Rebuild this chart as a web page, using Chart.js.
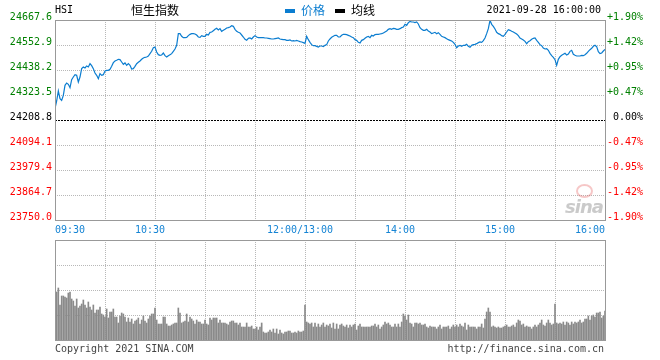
<!DOCTYPE html>
<html>
<head>
<meta charset="utf-8">
<script src="https://cdn.jsdelivr.net/npm/chart.js@4.4.1/dist/chart.umd.min.js"></script>
<style>
  body { margin: 0; background: #fff; width: 660px; height: 360px; position: relative; overflow: hidden; }
  canvas { position: absolute; left: 0; }
  #main { top: 0; }
  #vol { top: 235px; }
  .t { position: absolute; white-space: nowrap; font: 10px/12px "DejaVu Sans Mono", monospace; color: #000; }
  .cn { position: absolute; white-space: nowrap; font: 12px/12px "Noto Sans CJK SC", sans-serif; }
  .key { position: absolute; width: 10px; height: 4px; }
</style>
</head>
<body>
<canvas id="main" width="660" height="240"></canvas>
<canvas id="vol" width="660" height="125"></canvas>

<div class="t" style="left:55px;top:4px">HSI</div>
<div class="cn" style="left:131px;top:4px;color:#000">恒生指数</div>
<div class="key" style="left:285px;top:9px;background:#0b7dd0"></div>
<div class="cn" style="left:301px;top:4px;color:#0b7dd0">价格</div>
<div class="key" style="left:335px;top:9px;background:#000"></div>
<div class="cn" style="left:351px;top:4px;color:#000">均线</div>
<div class="t" style="right:59px;top:4px">2021-09-28 16:00:00</div>
<div class="t" style="left:55px;top:343px;color:#444">Copyright 2021 SINA.COM</div>
<div class="t" style="right:56px;top:343px;color:#444">http://finance.sina.com.cn</div>
<div style="position:absolute;left:576px;top:184px;width:13px;height:10px;border:2px solid rgba(225,70,70,0.3);border-radius:50%"></div>
<div style="position:absolute;left:565px;top:196px;font:italic bold 18px 'DejaVu Sans',sans-serif;color:rgba(150,150,150,0.5);letter-spacing:-1px">sina</div>

<script>
// 昨收 / previous close
const baseClose = 24208.8;

const priceTicks = [23750.0, 23864.7, 23979.4, 24094.1, 24208.8, 24323.5, 24438.2, 24552.9, 24667.6];
const timeTicks = [0, 60, 150, 210, 270, 330];
const timeLabels = ['09:30', '10:30', '12:00/13:00', '14:00', '15:00', '16:00'];
const gridMins = [30, 60, 90, 120, 150, 180, 210, 240, 270, 300];
const volTicks = [25, 50, 75];

// one value per trading minute, 09:30 .. 16:00 (lunch skipped)
const prices = [
  24260.9, 24296.0, 24341.9, 24306.7, 24299.1, 24322.0, 24367.9, 24378.6, 24372.5, 24357.2,
  24393.9, 24406.1, 24416.8, 24413.8, 24383.2, 24406.1, 24444.4, 24452.0, 24447.4, 24456.6,
  24452.0, 24467.3, 24458.1, 24444.4, 24424.5, 24413.8, 24398.5, 24421.4, 24413.8, 24416.8,
  24433.6, 24436.7, 24436.7, 24441.3, 24455.1, 24471.9, 24479.5, 24482.6, 24487.2, 24485.7,
  24475.0, 24464.3, 24470.4, 24459.7, 24467.3, 24459.7, 24442.8, 24444.4, 24455.1, 24467.3,
  24473.4, 24479.5, 24487.2, 24493.3, 24496.4, 24497.9, 24502.5, 24513.2, 24523.9, 24540.7,
  24543.8, 24520.8, 24508.6, 24505.5, 24507.1, 24516.2, 24504.0, 24497.9, 24504.0, 24508.6,
  24513.2, 24523.9, 24534.6, 24551.4, 24604.9, 24604.9, 24592.7, 24586.6, 24586.6, 24588.1,
  24595.8, 24601.9, 24604.9, 24604.9, 24603.4, 24598.8, 24589.6, 24588.1, 24595.8, 24592.7,
  24592.7, 24601.9, 24598.8, 24611.1, 24612.6, 24618.7, 24624.8, 24629.4, 24621.8, 24627.9,
  24615.6, 24620.2, 24624.8, 24630.9, 24632.5, 24635.5, 24641.6, 24638.6, 24624.8, 24615.6,
  24611.1, 24608.0, 24598.8, 24589.6, 24578.9, 24574.3, 24583.5, 24585.0, 24580.5, 24589.6,
  24595.8, 24589.6, 24586.6, 24586.6, 24586.6, 24586.6, 24585.0, 24585.0, 24583.5, 24582.0,
  24580.5, 24580.5, 24582.0, 24583.5, 24585.0, 24580.5, 24578.9, 24577.4, 24577.4, 24574.3,
  24574.3, 24575.9, 24571.3, 24572.8, 24571.3, 24574.3, 24571.3, 24568.2, 24566.7, 24563.7,
  24560.6, 24592.7, 24577.4, 24565.2, 24554.5, 24549.9, 24549.9, 24546.8, 24543.8, 24548.4,
  24548.4, 24545.3, 24551.4, 24554.5, 24571.3, 24580.5, 24588.1, 24592.7, 24597.3, 24597.3,
  24589.6, 24589.6, 24597.3, 24601.9, 24601.9, 24600.4, 24597.3, 24594.2, 24589.6, 24586.6,
  24577.4, 24574.3, 24565.2, 24562.1, 24574.3, 24577.4, 24583.5, 24589.6, 24592.7, 24586.6,
  24597.3, 24594.2, 24600.4, 24601.9, 24601.9, 24603.4, 24604.9, 24608.0, 24612.6, 24617.2,
  24624.8, 24627.9, 24624.8, 24629.4, 24627.9, 24624.8, 24624.8, 24627.9, 24632.5, 24635.5,
  24647.8, 24643.2, 24655.4, 24661.5, 24658.5, 24658.5, 24655.4, 24658.5, 24649.3, 24632.5,
  24624.8, 24620.2, 24620.2, 24624.8, 24617.2, 24612.6, 24604.9, 24608.0, 24611.1, 24604.9,
  24609.5, 24601.9, 24592.7, 24589.6, 24586.6, 24582.0, 24577.4, 24574.3, 24571.3, 24565.2,
  24556.0, 24540.7, 24548.4, 24551.4, 24546.8, 24551.4, 24551.4, 24556.0, 24546.8, 24542.2,
  24551.4, 24554.5, 24556.0, 24559.1, 24563.7, 24566.7, 24565.2, 24572.8, 24585.0, 24604.9,
  24627.9, 24666.1, 24647.8, 24638.6, 24626.4, 24611.1, 24604.9, 24601.9, 24595.8, 24592.7,
  24601.9, 24612.6, 24623.3, 24620.2, 24615.6, 24612.6, 24608.0, 24603.4, 24595.8, 24585.0,
  24580.5, 24575.9, 24569.8, 24559.1, 24568.2, 24572.8, 24578.9, 24583.5, 24585.0, 24574.3,
  24565.2, 24554.5, 24549.9, 24539.2, 24534.6, 24536.1, 24528.5, 24514.7, 24504.0, 24496.4,
  24485.7, 24459.7, 24487.2, 24499.4, 24505.5, 24510.1, 24514.7, 24507.1, 24511.7, 24523.9,
  24528.5, 24510.1, 24505.5, 24502.5, 24502.5, 24502.5, 24505.5, 24504.0, 24508.6, 24514.7,
  24523.9, 24531.5, 24537.7, 24546.8, 24551.4, 24545.3, 24522.4, 24513.2, 24516.2, 24525.4,
  24533.1
];

// volume, relative units (pane top = 100)
const volumes = [
  40,
  48, 52, 35, 44, 44, 43, 42, 47, 48, 41,
  39, 34, 41, 32, 34, 36, 40, 35, 32, 38,
  33, 30, 35, 27, 30, 30, 33, 26, 25, 23,
  31, 22, 28, 28, 31, 23, 23, 17, 24, 27,
  26, 23, 18, 22, 18, 21, 16, 19, 20, 22,
  16, 20, 24, 19, 17, 21, 24, 26, 26, 32,
  20, 16, 16, 16, 23, 23, 16, 14, 14, 15,
  16, 17, 17, 32, 27, 17, 18, 19, 26, 18,
  23, 21, 19, 16, 20, 18, 18, 16, 16, 20,
  16, 15, 22, 20, 22, 22, 22, 17, 20, 17,
  17, 17, 16, 15, 18, 19, 19, 17, 17, 15,
  17, 13, 13, 13, 17, 13, 13, 14, 11, 11,
  13, 10, 13, 17, 8, 7, 7, 8, 10, 8,
  11, 7, 11, 6, 10, 7, 6, 8, 8, 9,
  9, 7, 7, 8, 7, 9, 8, 8, 9, 35,
  18, 17, 16, 17, 13, 17, 13, 16, 13, 15,
  17, 13, 15, 14, 16, 12, 17, 11, 16, 11,
  15, 16, 14, 13, 15, 12, 15, 13, 15, 16,
  10, 14, 16, 13, 13, 13, 13, 13, 13, 14,
  14, 16, 13, 15, 11, 13, 15, 18, 16, 17,
  15, 13, 13, 16, 13, 16, 13, 18, 26, 24,
  20, 25, 17, 16, 13, 17, 17, 16, 17, 15,
  15, 16, 13, 12, 14, 13, 13, 13, 11, 13,
  15, 11, 13, 13, 13, 14, 11, 13, 15, 13,
  15, 13, 16, 14, 13, 17, 10, 15, 13, 13,
  13, 13, 11, 13, 13, 16, 12, 21, 28, 32,
  28, 13, 14, 13, 12, 13, 12, 12, 13, 14,
  15, 13, 13, 14, 15, 13, 17, 20, 19, 15,
  16, 13, 14, 13, 13, 11, 13, 15, 13, 15,
  17, 20, 15, 14, 17, 20, 17, 15, 16, 36,
  17, 16, 17, 16, 18, 15, 18, 17, 15, 18,
  16, 18, 17, 18, 20, 17, 18, 21, 21, 24,
  20, 24, 25, 23, 27, 27, 28, 22, 24, 29
];

const mono = '"DejaVu Sans Mono", monospace';
const blue = '#0b7dd0';

function upDown(v) {
  if (Math.abs(v - baseClose) < 0.01) return '#000';
  return v > baseClose ? '#008000' : '#ff0000';
}

// dotted grid + solid frame, sina style
function gridPlugin(hVals, midVal) {
  return {
    id: 'sinaGrid',
    beforeDatasetsDraw(chart) {
      let { ctx, chartArea: a, scales } = chart;
      let x = scales.x, y = scales.y;
      ctx.save();
      ctx.lineWidth = 1;
      ctx.strokeStyle = '#b8b8b8';
      ctx.setLineDash([1, 1]);
      ctx.beginPath();
      gridMins.forEach(m => {
        let px = Math.round(x.getPixelForValue(m)) + 0.5;
        ctx.moveTo(px, a.top);
        ctx.lineTo(px, a.bottom);
      });
      hVals.forEach(v => {
        if (midVal !== null && Math.abs(v - midVal) < 0.01) return;
        let py = Math.round(y.getPixelForValue(v)) + 0.5;
        ctx.moveTo(a.left, py);
        ctx.lineTo(a.right, py);
      });
      ctx.stroke();
      if (midVal !== null) {
        let py = Math.round(y.getPixelForValue(midVal)) + 0.5;
        ctx.strokeStyle = '#000';
        ctx.setLineDash([2, 1]);
        ctx.beginPath();
        ctx.moveTo(a.left, py);
        ctx.lineTo(a.right, py);
        ctx.stroke();
      }
      ctx.restore();
    },
    afterDatasetsDraw(chart) {
      let { ctx, chartArea: a } = chart;
      ctx.save();
      ctx.strokeStyle = '#999';
      ctx.lineWidth = 1;
      ctx.strokeRect(Math.round(a.left) + 0.5, Math.round(a.top) + 0.5,
        Math.round(a.right - a.left), Math.round(a.bottom - a.top));
      ctx.restore();
    }
  };
}

// time labels sit a little left of their grid line
const timeLabelPlugin = {
  id: 'timeLabels',
  afterDraw(chart) {
    let { ctx, scales: { x } } = chart;
    ctx.save();
    ctx.font = '10px ' + mono;
    ctx.fillStyle = '#1584d4';
    ctx.textBaseline = 'alphabetic';
    timeTicks.forEach((m, i) => {
      let px = x.getPixelForValue(m);
      if (i === 0) {
        ctx.textAlign = 'left';
        ctx.fillText(timeLabels[i], px, 233);
      } else if (i === timeTicks.length - 1) {
        ctx.textAlign = 'right';
        ctx.fillText(timeLabels[i], px, 233);
      } else {
        ctx.textAlign = 'center';
        ctx.fillText(timeLabels[i], px - 5, 233);
      }
    });
    ctx.restore();
  }
};

const setPriceTicks = s => { s.ticks = priceTicks.map(v => ({ value: v })); };

new Chart(document.getElementById('main'), {
  type: 'line',
  data: {
    datasets: [{
      data: prices.map((p, i) => ({ x: i, y: p })),
      borderColor: blue,
      borderWidth: 1.2,
      pointRadius: 0,
      tension: 0
    }]
  },
  options: {
    responsive: false,
    animation: false,
    events: [],
    layout: { padding: { top: 20, left: 0, right: 0, bottom: 0 } },
    plugins: { legend: { display: false }, tooltip: { enabled: false } },
    scales: {
      x: {
        type: 'linear', min: 0, max: 330,
        grid: { display: false, drawTicks: false },
        border: { display: false },
        ticks: { display: false },
        afterFit: s => { s.height = 20; }
      },
      y: {
        position: 'left',
        min: priceTicks[0], max: priceTicks[priceTicks.length - 1],
        afterBuildTicks: setPriceTicks,
        afterFit: s => { s.width = 55; },
        grid: { display: false, drawTicks: false },
        border: { display: false },
        ticks: {
          autoSkip: false,
          padding: 3,
          labelOffset: -3,
          font: { family: mono, size: 10 },
          color: c => upDown(c.tick.value),
          callback: v => v.toFixed(1)
        }
      },
      y2: {
        position: 'right',
        min: priceTicks[0], max: priceTicks[priceTicks.length - 1],
        afterBuildTicks: setPriceTicks,
        afterFit: s => { s.width = 55; },
        grid: { display: false, drawTicks: false },
        border: { display: false },
        ticks: {
          autoSkip: false,
          padding: 2,
          labelOffset: -3,
          font: { family: mono, size: 10 },
          color: c => upDown(c.tick.value),
          callback: v => {
            let p = (v - baseClose) / baseClose * 100;
            if (Math.abs(p) < 0.005) return ' 0.00%';
            return (p > 0 ? '+' : '') + p.toFixed(2) + '%';
          }
        }
      }
    }
  },
  plugins: [gridPlugin(priceTicks.slice(1, -1), baseClose), timeLabelPlugin]
});

new Chart(document.getElementById('vol'), {
  type: 'bar',
  data: {
    datasets: [{
      data: volumes.map((v, i) => ({ x: i, y: v })),
      backgroundColor: '#8a8a8a',
      barThickness: 1,
      borderWidth: 0
    }]
  },
  options: {
    responsive: false,
    animation: false,
    events: [],
    layout: { padding: { top: 5, bottom: 20, left: 55, right: 55 } },
    plugins: { legend: { display: false }, tooltip: { enabled: false } },
    scales: {
      x: { type: 'linear', min: 0, max: 330, offset: false, display: false },
      y: { min: 0, max: 100, display: false }
    }
  },
  plugins: [gridPlugin(volTicks, null)]
});
</script>
</body>
</html>
